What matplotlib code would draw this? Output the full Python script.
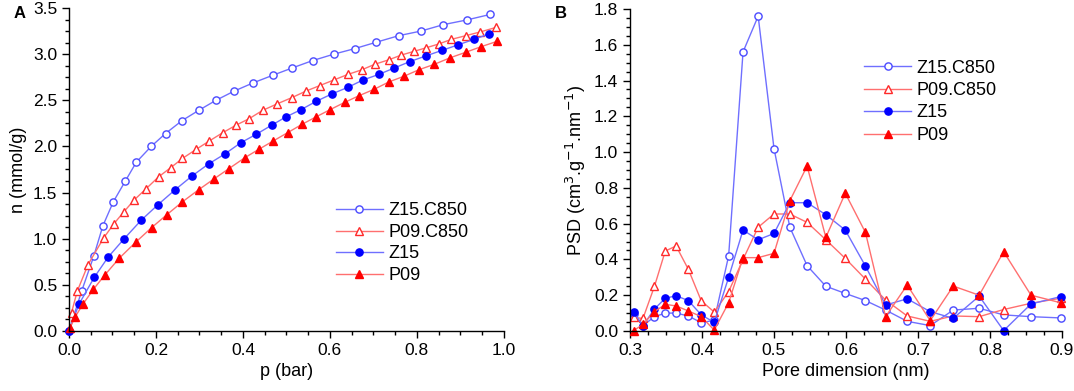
import matplotlib
matplotlib.use("Agg")
import matplotlib.pyplot as plt
from matplotlib.ticker import MultipleLocator

plt.rcParams['font.family'] = ['Liberation Sans', 'DejaVu Sans']

# --- panel A: isotherms ---
p_z15c = [0, 0.029, 0.057, 0.078, 0.102, 0.129, 0.155, 0.189, 0.222, 0.26, 0.298, 0.338, 0.38,
          0.424, 0.468, 0.513, 0.56, 0.609, 0.657, 0.707, 0.758, 0.809, 0.861, 0.914, 0.968]
n_z15c = [0, 0.43, 0.81, 1.14, 1.40, 1.62, 1.83, 2.00, 2.14, 2.28, 2.39, 2.50, 2.60,
          2.69, 2.77, 2.85, 2.93, 3.00, 3.06, 3.13, 3.20, 3.25, 3.32, 3.37, 3.43]

p_p09c = [0.006, 0.019, 0.044, 0.08, 0.103, 0.126, 0.15, 0.177, 0.206, 0.234, 0.261, 0.293, 0.323,
          0.354, 0.384, 0.414, 0.445, 0.478, 0.513, 0.545, 0.577, 0.609, 0.641, 0.673, 0.703,
          0.736, 0.764, 0.793, 0.822, 0.85, 0.879, 0.912, 0.945, 0.982]
n_p09c = [0.20, 0.43, 0.72, 1.01, 1.16, 1.29, 1.42, 1.54, 1.67, 1.77, 1.87, 1.97, 2.06,
          2.15, 2.23, 2.30, 2.39, 2.46, 2.53, 2.60, 2.66, 2.72, 2.78, 2.83, 2.89,
          2.94, 2.99, 3.03, 3.07, 3.11, 3.16, 3.20, 3.24, 3.29]

p_z15 = [0, 0.023, 0.058, 0.09, 0.127, 0.166, 0.205, 0.244, 0.283, 0.321, 0.359, 0.395, 0.43,
         0.466, 0.499, 0.534, 0.569, 0.605, 0.641, 0.676, 0.712, 0.748, 0.784, 0.82, 0.857,
         0.894, 0.931, 0.966]
n_z15 = [0, 0.29, 0.58, 0.80, 1.00, 1.20, 1.37, 1.53, 1.68, 1.81, 1.92, 2.04, 2.13,
         2.23, 2.32, 2.40, 2.49, 2.57, 2.64, 2.72, 2.78, 2.85, 2.92, 2.98, 3.04,
         3.10, 3.16, 3.22]

p_p09 = [0.002, 0.014, 0.032, 0.056, 0.083, 0.116, 0.153, 0.19, 0.225, 0.261, 0.298, 0.334, 0.368,
         0.405, 0.437, 0.47, 0.503, 0.536, 0.568, 0.601, 0.635, 0.667, 0.702, 0.736, 0.77,
         0.804, 0.84, 0.876, 0.912, 0.947, 0.985]
n_p09 = [0.03, 0.15, 0.29, 0.45, 0.61, 0.79, 0.96, 1.12, 1.26, 1.40, 1.53, 1.65, 1.76,
         1.88, 1.97, 2.06, 2.15, 2.24, 2.32, 2.40, 2.48, 2.55, 2.62, 2.70, 2.76,
         2.83, 2.89, 2.96, 3.02, 3.08, 3.14]

# --- panel B: pore size distribution ---
pore = [0.305, 0.318, 0.334, 0.349, 0.364, 0.381, 0.399, 0.417, 0.437, 0.457, 0.478, 0.5, 0.522,
        0.546, 0.572, 0.599, 0.627, 0.655, 0.685, 0.717, 0.749, 0.785, 0.819, 0.857, 0.898]
psd_z15c = [0.095, 0.03, 0.08, 0.10, 0.10, 0.084, 0.046, 0.06, 0.42, 1.56, 1.76, 1.02, 0.58,
            0.365, 0.25, 0.21, 0.17, 0.117, 0.054, 0.03, 0.117, 0.127, 0.09, 0.08, 0.073]
psd_p09c = [0.076, 0.07, 0.25, 0.447, 0.475, 0.345, 0.168, 0.106, 0.22, 0.40, 0.58, 0.654, 0.654,
            0.607, 0.51, 0.406, 0.29, 0.173, 0.084, 0.054, 0.084, 0.08, 0.12, 0.155, 0.183]
psd_z15 = [0.105, 0.03, 0.123, 0.183, 0.197, 0.17, 0.09, 0.048, 0.30, 0.564, 0.51, 0.545, 0.717,
           0.717, 0.65, 0.564, 0.363, 0.145, 0.18, 0.108, 0.071, 0.195, 0.002, 0.151, 0.192]
psd_p09 = [0.002, 0.037, 0.108, 0.149, 0.14, 0.112, 0.08, 0.005, 0.158, 0.41, 0.41, 0.434, 0.728,
           0.922, 0.523, 0.77, 0.551, 0.08, 0.257, 0.058, 0.251, 0.2, 0.443, 0.2, 0.158]

labels = ["Z15.C850", "P09.C850", "Z15", "P09"]

# line colour, marker, marker edge, marker face
styles = [
    ('#6f6fff', 'o', '#4a4aff', 'white'),
    ('#ff6f6f', '^', '#ff2a2a', 'white'),
    ('#6f6fff', 'o', '#0000ff', '#0000ff'),
    ('#ff6f6f', '^', '#ff0000', '#ff0000'),
]
msizes = [5.2, 5.6, 5.2, 5.6]

fig = plt.figure(figsize=(10.74, 3.91), dpi=100)
axA = fig.add_axes([0.0642, 0.1535, 0.405, 0.826])
axB = fig.add_axes([0.5866, 0.1535, 0.4022, 0.8235])

seriesA = [(p_z15c, n_z15c), (p_p09c, n_p09c), (p_z15, n_z15), (p_p09, n_p09)]
seriesB = [psd_z15c, psd_p09c, psd_z15, psd_p09]

for i in range(4):
    lc, mk, me, mf = styles[i]
    axA.plot(seriesA[i][0], seriesA[i][1], color=lc, lw=1.0, marker=mk, ms=msizes[i],
             mec=me, mfc=mf, mew=1.0, label=labels[i], clip_on=False)
    axB.plot(pore, seriesB[i], color=lc, lw=1.0, marker=mk, ms=msizes[i],
             mec=me, mfc=mf, mew=1.0, label=labels[i], clip_on=False)

for ax in (axA, axB):
    ax.spines['top'].set_visible(False)
    ax.spines['right'].set_visible(False)
    ax.spines['left'].set_linewidth(1.0)
    ax.spines['bottom'].set_linewidth(1.0)
    ax.tick_params(which='major', direction='out', length=5, width=1.0, labelsize=12.5)
    ax.tick_params(which='minor', direction='out', length=3, width=1.0)

axA.set_xlim(0, 1.0)
axA.set_ylim(0, 3.5)
axA.xaxis.set_major_locator(MultipleLocator(0.2))
axA.xaxis.set_minor_locator(MultipleLocator(0.05))
axA.yaxis.set_major_locator(MultipleLocator(0.5))
axA.yaxis.set_minor_locator(MultipleLocator(0.125))
axA.set_xlabel("p (bar)", fontsize=13)
axA.set_ylabel("n (mmol/g)", fontsize=13)

axB.set_xlim(0.3, 0.9)
axB.set_ylim(0, 1.8)
axB.xaxis.set_major_locator(MultipleLocator(0.1))
axB.xaxis.set_minor_locator(MultipleLocator(0.025))
axB.yaxis.set_major_locator(MultipleLocator(0.2))
axB.yaxis.set_minor_locator(MultipleLocator(0.05))
axB.set_xlabel("Pore dimension (nm)", fontsize=13)
axB.set_ylabel("PSD (cm$^3$.g$^{-1}$.nm$^{-1}$)", fontsize=13)

axA.legend(loc='center left', bbox_to_anchor=(0.614, 0.272), frameon=False, fontsize=13,
           borderpad=0, borderaxespad=0, handlelength=2.6, handletextpad=0.3, labelspacing=0.25)
axB.legend(loc='center left', bbox_to_anchor=(0.542, 0.712), frameon=False, fontsize=13,
           borderpad=0, borderaxespad=0, handlelength=2.6, handletextpad=0.3, labelspacing=0.3)

fig.text(0.013, 0.965, "A", fontsize=12, fontweight='bold', va='center')
fig.text(0.517, 0.965, "B", fontsize=12, fontweight='bold', va='center')

fig.savefig("out.png", dpi=100)
